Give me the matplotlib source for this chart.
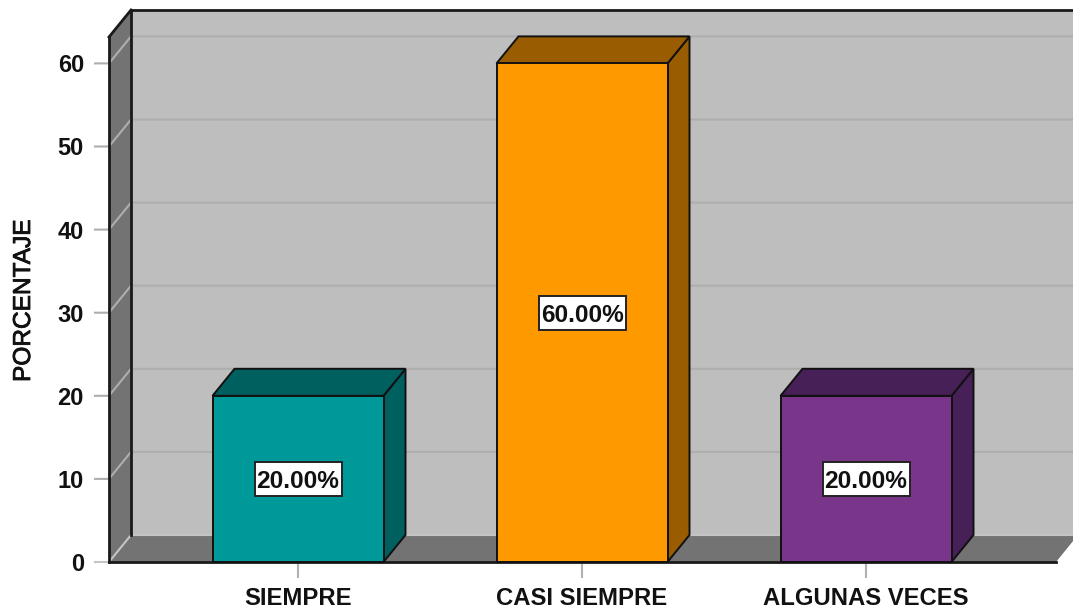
import matplotlib
matplotlib.use("Agg")
import matplotlib.pyplot as plt
import matplotlib.patheffects as pe
from matplotlib.patches import Polygon, Rectangle

categories = ["SIEMPRE", "CASI SIEMPRE", "ALGUNAS VECES"]
values = [20, 60, 20]
labels = ["20.00%", "60.00%", "20.00%"]
front_colors = ["#009999", "#FF9900", "#783589"]
dark_colors = ["#006060", "#995C00", "#482058"]
yticks = [0, 10, 20, 30, 40, 50, 60]

W, H = 1073, 613
plt.rcParams["font.family"] = ["Liberation Sans", "DejaVu Sans"]
fig = plt.figure(figsize=(W / 100, H / 100), dpi=100, facecolor="white")

# axes frame in pixels
L, R, B, T = 109, 1056, 562, 37
ax = fig.add_axes([L / W, 1 - B / H, (R - L) / W, (B - T) / H])
px_x, px_y = 284.0, 8.31
ax.set_xlim((L - 298) / px_x, (R - 298) / px_x)
ax.set_ylim(0, (B - T) / px_y)
ax.axis("off")
x0, x1 = ax.get_xlim()
y1 = ax.get_ylim()[1]
dx, dy = 22 / px_x, 27 / px_y
bw = 171 / px_x

def poly(pts, fc, ec="none", lw=0, z=1):
    ax.add_patch(Polygon(pts, closed=True, facecolor=fc, edgecolor=ec, linewidth=lw,
                         zorder=z, clip_on=False, joinstyle="miter"))

WALL, SIDE, GRID, EDGE = "#BEBEBE", "#737373", "#AEAEAE", "#1A1A1A"
# back wall, side wall, floor
poly([(x0 + dx, dy), (x1 + dx, dy), (x1 + dx, y1 + dy), (x0 + dx, y1 + dy)], WALL)
poly([(x0, 0), (x0 + dx, dy), (x0 + dx, y1 + dy), (x0, y1)], SIDE)
poly([(x0, 0), (x1, 0), (x1 + dx, dy), (x0 + dx, dy)], SIDE)

# gridlines across side wall and back wall, with outer ticks
tick = 14 / px_x
for v in yticks:
    ax.plot([x0 - tick, x0, x0 + dx, x1 + dx], [v, v, v + dy, v + dy],
            color=GRID if v else "#C4C4C4", lw=1.5, zorder=2, clip_on=False, solid_joinstyle="round")
    ax.text(x0 - 25 / px_x, v, str(v), ha="right", va="center_baseline", fontsize=17,
            fontweight="bold", color="#111111", clip_on=False)

# wall edges
ax.plot([x0 + dx, x1 + dx], [y1 + dy] * 2, color=EDGE, lw=2, zorder=3, clip_on=False)
ax.plot([x0 + dx, x0 + dx], [dy, y1 + dy], color=EDGE, lw=2, zorder=3, clip_on=False)
ax.plot([x0, x0], [0, y1], color=EDGE, lw=2, zorder=3, clip_on=False)
ax.plot([x0, x0 + dx], [y1, y1 + dy], color=EDGE, lw=2, zorder=3, clip_on=False)
ax.plot([x0, x1], [0, 0], color=EDGE, lw=2, zorder=3, clip_on=False)

# bars
box_w, box_h = 87 / px_x, 34 / px_y
for i, (c, v, lab, fc, dc) in enumerate(zip(categories, values, labels, front_colors, dark_colors)):
    a, b = i - bw / 2, i + bw / 2
    poly([(b, 0), (b + dx, dy), (b + dx, v + dy), (b, v)], dc, "#111111", 1.4, 4)
    poly([(a, v), (b, v), (b + dx, v + dy), (a + dx, v + dy)], dc, "#111111", 1.4, 4)
    poly([(a, 0), (b, 0), (b, v), (a, v)], fc, "#111111", 1.4, 5)
    ax.plot([i, i], [0, -15 / px_y], color="#B0B0B0", lw=1.5, zorder=2, clip_on=False)
    ax.text(i, -36.5 / px_y, c, ha="center", va="center", fontsize=17.2, fontweight="bold",
            color="#111111", clip_on=False)
    ax.add_patch(Rectangle((i - box_w / 2, v / 2 - box_h / 2), box_w, box_h, facecolor="white",
                           edgecolor="#222222", linewidth=1.4, zorder=6))
    ax.text(i, v / 2, lab, ha="center", va="center_baseline", fontsize=17.6, fontweight="bold",
            color="#111111", zorder=7)

ax.text(x0 - 85 / px_x, y1 / 2 - 0.2, "PORCENTAJE", rotation=90, ha="center", va="center",
        fontsize=17.6, color="#111111", clip_on=False,
        path_effects=[pe.withStroke(linewidth=0.6, foreground="#111111")])

fig.savefig("out.png", dpi=100, facecolor="white")
